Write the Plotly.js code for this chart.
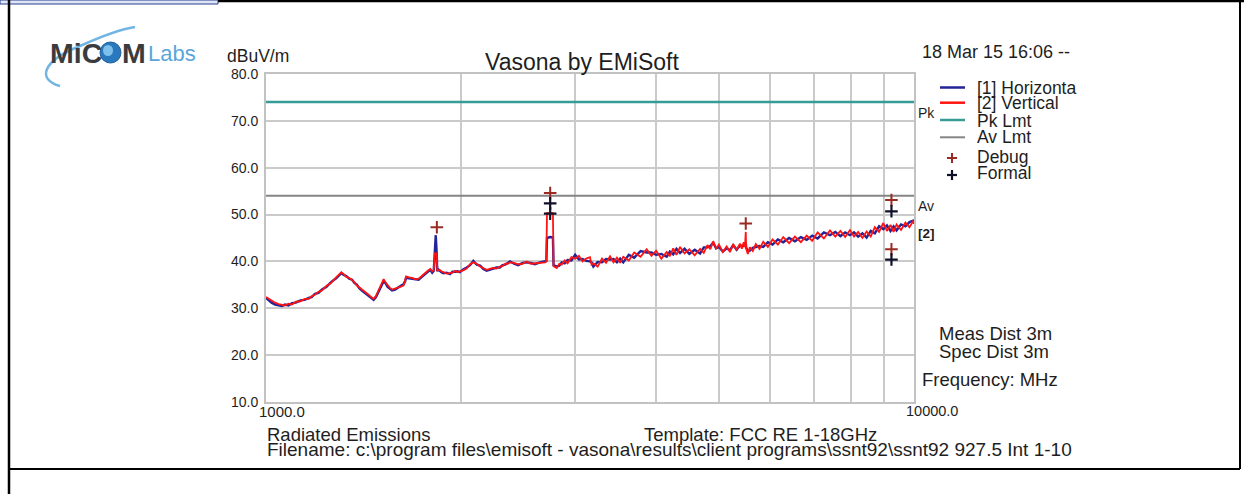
<!DOCTYPE html>
<html>
<head>
<meta charset="utf-8">
<script src="https://cdn.plot.ly/plotly-3.0.1.min.js"></script>
<style>
  html, body { margin: 0; padding: 0; background: #ffffff; }
  #chart { width: 1244px; height: 494px; }
</style>
</head>
<body>
<div id="chart"></div>
<script>
// ---------------- DATA ----------------
const freqMHz = [
  1000,1010,1020,1033,1046,1058,1070,1083,1097,1112,
  1130,1147,1164,1177,1190,1205,1220,1240,1260,1283,
  1307,1318,1330,1344,1358,1369,1380,1393,1406,1423,
  1440,1453,1466,1478,1490,1505,1519,1530,1540,1552,
  1565,1582,1600,1615,1631,1640,1645,1662,1680,1700,
  1720,1740,1760,1777,1793,1805,1815,1822,1828,1834,
  1838,1845,1852,1865,1880,1900,1923,1940,1960,1975,
  1992,2015,2040,2065,2089,2115,2140,2165,2191,2215,
  2240,2268,2296,2318,2340,2360,2380,2415,2450,2488,
  2525,2562,2600,2648,2696,2708,2714,2745,2772,2778,
  2810,2835,2860,2890,2920,2960,3000,3040,3080,3120,
  3162,3180,3200,3250,3300,3348,3396,3438,3480,3520,
  3559,3630,3700,3785,3868,3934,4000,4075,4153,4200,
  4250,4300,4355,4425,4500,4588,4676,4738,4800,4850,
  4900,4950,5000,5070,5139,5200,5260,5324,5388,5424,
  5460,5485,5492,5500,5508,5540,5580,5640,5700,5776,
  5853,5950,6050,6166,6284,6416,6550,6690,6830,6965,
  7100,7260,7420,7560,7700,7830,7965,8080,8200,8325,
  8450,8575,8700,8833,8967,9083,9200,9300,9400,9550,
  9700,9840,9980,10000
];
// [1] Horizontal (dBuV/m)
const horizontal = [
  32.2,31.6,31.2,30.8,30.6,30.5,30.8,30.6,31.1,31.2,
  31.7,31.8,32.2,32.4,33.1,33.3,34.0,34.6,35.6,36.4,
  37.5,37.1,36.9,36.3,36.1,35.4,35.1,34.3,33.8,33.2,
  32.7,32.2,31.8,32.4,33.4,34.7,35.8,35.3,34.6,34.2,
  33.8,34.0,34.5,34.8,35.2,35.8,36.5,36.4,36.3,36.3,
  36.1,36.7,37.4,37.8,38.2,37.6,38.0,41.8,45.6,41.8,
  37.9,38.3,38.0,37.7,37.5,37.6,37.3,37.8,37.8,37.9,
  37.7,38.3,38.7,39.2,40.1,39.3,39.1,38.4,38.0,38.2,
  38.4,38.7,38.7,39.2,39.3,39.7,40.0,39.5,39.2,39.7,
  39.8,39.7,39.4,39.8,40.0,40.1,45.0,45.2,45.1,39.2,
  38.9,39.1,39.8,39.6,40.3,40.2,41.4,40.4,40.5,40.1,
  40.0,39.8,38.9,39.9,39.8,40.5,40.4,40.5,39.8,40.6,
  39.8,41.4,40.8,42.2,41.9,41.9,41.4,41.6,41.0,42.1,
  41.5,42.7,41.8,42.7,41.6,42.5,41.7,43.0,43.0,43.3,
  44.0,42.8,43.1,42.1,42.8,42.4,43.5,42.5,43.4,43.3,
  43.3,43.8,43.8,44.0,43.0,42.2,42.3,42.9,43.1,43.3,
  43.1,44.1,43.6,44.7,44.1,45.0,44.3,45.2,44.6,45.5,
  44.9,46.2,45.6,46.3,45.4,46.2,45.6,46.2,45.3,46.0,
  45.1,46.5,46.0,47.5,46.9,47.7,46.5,47.5,46.6,47.9,
  47.5,48.4,48.7,48.6
];
// [2] Vertical (dBuV/m)
const vertical = [
  32.4,32.0,31.6,31.2,30.9,30.8,30.6,31.0,30.8,31.4,
  31.5,32.0,32.0,32.6,32.9,33.5,33.8,34.8,35.4,36.6,
  37.7,37.3,36.7,36.5,35.9,35.6,34.9,34.5,34.0,33.4,
  32.9,32.4,32.0,32.6,33.6,34.9,36.2,35.5,34.9,34.4,
  34.0,34.2,34.3,34.6,34.9,36.0,36.8,36.6,36.5,36.2,
  36.3,36.9,37.6,38.0,38.4,37.9,38.1,41.7,41.7,41.7,
  38.1,38.1,38.2,37.9,37.7,37.4,37.5,37.6,38.0,37.7,
  37.9,38.1,38.5,39.4,39.8,39.5,38.9,38.6,38.2,38.4,
  38.6,38.5,38.9,39.0,39.5,39.5,39.8,39.7,39.4,39.5,
  40.0,39.5,39.6,39.6,39.8,40.0,50.3,50.3,50.3,39.0,
  38.6,39.5,39.3,40.2,39.6,40.9,40.6,41.2,40.0,40.6,
  40.9,39.3,39.6,38.9,40.6,39.7,41.1,39.8,40.8,39.7,
  41.0,40.2,41.9,41.0,42.6,41.2,42.3,40.6,42.0,41.1,
  42.8,41.4,43.1,41.7,42.6,41.3,42.7,41.8,43.5,42.6,
  44.3,42.7,43.6,42.0,43.2,42.0,43.7,42.4,43.8,42.7,
  44.1,43.1,46.3,46.3,42.8,41.6,43.0,42.2,43.7,42.7,
  44.2,43.1,44.7,43.6,45.2,43.9,45.3,44.1,45.5,44.4,
  46.2,44.9,46.6,45.3,46.5,45.2,46.7,45.3,46.3,45.0,
  46.4,45.3,47.3,46.3,48.2,46.5,47.8,46.3,47.9,46.7,
  48.3,47.3,48.7,48.0
];
const limitFreq = [1000, 10000];
const pkLimit = [74, 74];
const avLimit = [54, 54];
const debugFreq  = [1835, 2745, 5500, 9230, 9230];
const debugLevel = [47.3, 54.6, 48.1, 53.1, 42.6];
const formalFreq  = [2745, 2745, 9230, 9230];
const formalLevel = [52.4, 50.2, 50.7, 40.4];
const yTickVals = [10, 20, 30, 40, 50, 60, 70, 80];
const yTickText = ['10.0','20.0','30.0','40.0','50.0','60.0','70.0','80.0'];
const xGridVals = [1000,2000,3000,4000,5000,6000,7000,8000,9000,10000];
const xEndLabels = ['1000.0', '10000.0'];
const legendNames = ['[1] Horizonta', '[2] Vertical', 'Pk Lmt', 'Av Lmt', 'Debug', 'Formal'];

// ---------------- LAYOUT HELPERS ----------------
const L = 266, R = 914, T = 74, B = 402;
const X = px => (px - L) / (R - L);
const Y = py => (B - py) / (B - T);
const FONT = 'Liberation Sans, Arial, sans-serif';
const TXT = '#1e1e1e';

const BLUE = '#23239a', RED = '#ff1414', TEAL = '#379c96', GRAYL = '#858585';
const DEBUG = '#9a2a22', FORMAL = '#101028';

function ann(text, px, py, size, anchor, extra) {
  return Object.assign({
    text: text, xref: 'paper', yref: 'paper', x: X(px), y: Y(py),
    xanchor: anchor || 'left', yanchor: 'middle', showarrow: false,
    font: { family: FONT, size: size, color: TXT }
  }, extra || {});
}
function pline(x0, y0, x1, y1, color, width) {
  return { type: 'line', xref: 'paper', yref: 'paper',
    x0: X(x0), y0: Y(y0), x1: X(x1), y1: Y(y1),
    line: { color: color, width: width } };
}

const traces = [
  { x: limitFreq, y: avLimit, mode: 'lines', line: { color: GRAYL, width: 2 }, name: legendNames[3] },
  { x: limitFreq, y: pkLimit, mode: 'lines', line: { color: TEAL, width: 2.5 }, name: legendNames[2] },
  { x: freqMHz, y: horizontal, mode: 'lines', line: { color: BLUE, width: 2.4 }, name: legendNames[0] },
  { x: freqMHz, y: vertical, mode: 'lines', line: { color: RED, width: 1.8 }, name: legendNames[1] },
  { x: debugFreq, y: debugLevel, mode: 'markers', name: legendNames[4],
    marker: { symbol: 'cross-thin', size: 9, line: { color: DEBUG, width: 2 } } },
  { x: formalFreq, y: formalLevel, mode: 'markers', name: legendNames[5],
    marker: { symbol: 'cross-thin', size: 9, line: { color: FORMAL, width: 2.2 } } }
];

const legendY = [88.3, 103.3, 120.7, 137.3, 156.7, 173.3];

const annotations = [
  // logo
  ann('<b>MiC</b>', 48, 53, 28.5, 'left', { font: { family: FONT, size: 28.5, color: '#3b3b3d' } }),
  ann('<b>M</b>', 120, 53, 28.5, 'left', { font: { family: FONT, size: 28.5, color: '#3b3b3d' } }),
  ann('Labs', 146, 53, 22, 'left', { font: { family: FONT, size: 22, color: '#5aa6da' } }),
  // titles
  ann('Vasona by EMiSoft', 582, 62, 23, 'center'),
  ann('dBuV/m', 225, 56, 17.5),
  ann('18 Mar 15 16:06 --', 920, 52, 18),
  // legend
  ann(legendNames[0], 975, legendY[0], 17.5),
  ann(legendNames[1], 975, legendY[1], 17.5),
  ann(legendNames[2], 975, legendY[2], 17.5),
  ann(legendNames[3], 975, legendY[3], 17.5),
  ann(legendNames[4], 975, legendY[4], 17.5),
  ann(legendNames[5], 975, legendY[5], 17.5),
  // right side labels
  ann('Pk', 916, 113, 14),
  ann('Av', 916, 206, 14),
  ann('<b>[2]</b>', 916, 233, 13.5),
  ann('Meas Dist 3m', 937, 333, 18.5),
  ann('Spec Dist 3m', 937, 351.5, 18.5),
  ann('Frequency: MHz', 920, 379.5, 18.5),
  // x end labels
  ann(xEndLabels[0], 257, 411, 15),
  ann(xEndLabels[1], 904, 411, 14.5),
  // footer
  ann('Radiated Emissions', 265, 434, 18.5),
  ann('Template: FCC RE 1-18GHz', 642, 434, 18.5),
  ann('Filename: c:\\program files\\emisoft - vasona\\results\\client programs\\ssnt92\\ssnt92 927.5 Int 1-10', 265, 449, 19)
];

const swoosh = 'M ' + X(60) + ',' + Y(86) +
  ' C ' + X(38) + ',' + Y(80) + ' ' + X(40) + ',' + Y(62) + ' ' + X(80) + ',' + Y(46) +
  ' C ' + X(100) + ',' + Y(37) + ' ' + X(122) + ',' + Y(29) + ' ' + X(135) + ',' + Y(27);

const shapes = [
  // page frame
  { type: 'rect', xref: 'paper', yref: 'paper', x0: X(0), x1: X(218), y0: Y(0), y1: Y(4),
    fillcolor: '#dfe7f7', line: { color: '#2a3f8f', width: 1 } },
  pline(218, 1, 1244, 1, '#000000', 2.5),
  pline(9, 0, 9, 494, '#000000', 2.5),
  pline(1240, 0, 1240, 469, '#000000', 2),
  pline(9, 469, 1240, 469, '#000000', 2),
  // logo
  { type: 'path', xref: 'paper', yref: 'paper', path: swoosh, line: { color: '#72b4e2', width: 2.5 } },
  { type: 'circle', xref: 'paper', yref: 'paper', x0: X(100), x1: X(121), y0: Y(63), y1: Y(42),
    fillcolor: '#2a78bd', line: { color: '#1d5f9e', width: 1 } },
  { type: 'circle', xref: 'paper', yref: 'paper', x0: X(103), x1: X(113), y0: Y(56), y1: Y(45),
    fillcolor: '#7fc0ea', line: { width: 0 } },
  // legend samples
  pline(940, 87.5, 965, 87.5, BLUE, 2.5),
  pline(940, 102.7, 965, 102.7, RED, 2.5),
  pline(940, 120, 965, 120, TEAL, 2.5),
  pline(940, 137.3, 965, 137.3, GRAYL, 2),
  pline(947, 158, 957, 158, DEBUG, 2),
  pline(952, 153, 952, 163, DEBUG, 2),
  pline(947, 175, 957, 175, FORMAL, 2.2),
  pline(952, 170, 952, 180, FORMAL, 2.2)
];

const layout = {
  width: 1244, height: 494,
  margin: { l: L, r: 1244 - R, t: T, b: 494 - B, pad: 0 },
  paper_bgcolor: '#ffffff', plot_bgcolor: '#ffffff',
  showlegend: false,
  font: { family: FONT, color: TXT },
  xaxis: {
    type: 'log', range: [3, 4], tickvals: xGridVals, showticklabels: false,
    showgrid: true, gridcolor: '#cacaca', gridwidth: 2,
    showline: true, linecolor: '#c2c2c2', linewidth: 2, mirror: true,
    zeroline: false, ticks: ''
  },
  yaxis: {
    range: [10, 80], tickvals: yTickVals, ticktext: yTickText,
    showgrid: true, gridcolor: '#cacaca', gridwidth: 2,
    showline: true, linecolor: '#c2c2c2', linewidth: 2, mirror: true,
    zeroline: false, ticks: 'outside', ticklen: 3, tickcolor: 'rgba(0,0,0,0)',
    tickfont: { family: FONT, size: 14, color: TXT }
  },
  annotations: annotations,
  shapes: shapes
};

Plotly.newPlot('chart', traces, layout, { staticPlot: true, displayModeBar: false });
</script>
</body>
</html>
